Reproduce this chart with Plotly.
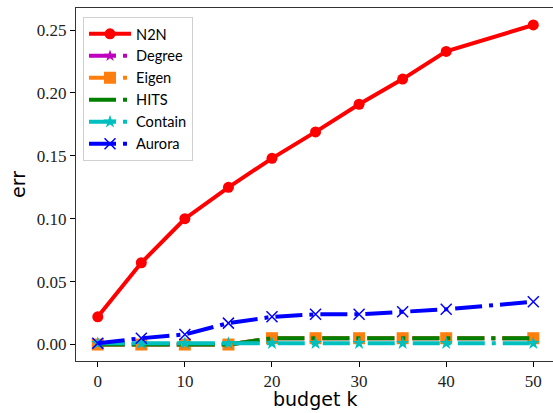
import plotly.graph_objects as go

budget = [0, 5, 10, 15, 20, 25, 30, 35, 40, 50]
n2n = [0.022, 0.065, 0.100, 0.125, 0.148, 0.169, 0.191, 0.211, 0.233, 0.254]
degree = [0.0, 0.0, 0.0, 0.0, 0.005, 0.005, 0.005, 0.005, 0.005, 0.005]
eigen = [0.0, 0.0, 0.0, 0.0, 0.005, 0.005, 0.005, 0.005, 0.005, 0.005]
hits = [0.0, 0.0, 0.0, 0.0, 0.005, 0.005, 0.005, 0.005, 0.005, 0.005]
contain = [0.001, 0.001, 0.001, 0.001, 0.001, 0.001, 0.001, 0.001, 0.001, 0.001]
aurora = [0.001, 0.005, 0.008, 0.017, 0.022, 0.024, 0.024, 0.026, 0.028, 0.034]

yticks = [0.0, 0.05, 0.10, 0.15, 0.20, 0.25]
xticks = [0, 10, 20, 30, 40, 50]

DASHDOT = "27px,7px,4px,7px"

fig = go.Figure()
fig.add_trace(go.Scatter(x=budget, y=n2n, name="N2N", mode="lines+markers",
                         line=dict(color="#ff0000", width=4),
                         marker=dict(symbol="circle", size=11, color="#ff0000")))
fig.add_trace(go.Scatter(x=budget, y=degree, name="Degree", mode="lines+markers",
                         line=dict(color="#bf00bf", width=4, dash=DASHDOT),
                         marker=dict(symbol="star", size=9, color="#bf00bf")))
fig.add_trace(go.Scatter(x=budget, y=eigen, name="Eigen", mode="lines+markers",
                         line=dict(color="#ff7f0e", width=4, dash=DASHDOT),
                         marker=dict(symbol="square", size=12, color="#ff7f0e")))
fig.add_trace(go.Scatter(x=budget, y=hits, name="HITS", mode="lines",
                         line=dict(color="#008000", width=4, dash=DASHDOT)))
fig.add_trace(go.Scatter(x=budget, y=contain, name="Contain", mode="lines+markers",
                         line=dict(color="#00bfbf", width=4, dash=DASHDOT),
                         marker=dict(symbol="star", size=10, color="#00bfbf")))
fig.add_trace(go.Scatter(x=budget, y=aurora, name="Aurora", mode="lines+markers",
                         line=dict(color="#0000ff", width=4, dash=DASHDOT),
                         marker=dict(symbol="x-thin-open", size=11,
                                     line=dict(color="#0000ff", width=1.5))))

fig.update_layout(
    width=553, height=413,
    margin=dict(l=76, r=0, t=8, b=52, autoexpand=False),
    plot_bgcolor="white", paper_bgcolor="white",
    showlegend=True,
    legend=dict(x=0.0147, y=0.975, xanchor="left", yanchor="top",
                bgcolor="rgba(255,255,255,0.8)", bordercolor="#d0d0d0", borderwidth=1,
                font=dict(family="Lato", size=14.6, color="black"),
                itemwidth=42, tracegroupgap=0),
    xaxis=dict(range=[-2.5, 52.26], tickvals=xticks, ticks="outside", ticklen=5,
               tickcolor="black", showline=True, linecolor="#333333", linewidth=1,
               mirror=True, showgrid=False, zeroline=False, automargin=False,
               tickfont=dict(family="Liberation Serif", size=17, color="#222222")),
    yaxis=dict(range=[-0.0131, 0.2675], tickvals=yticks, tickformat=".2f", ticks="outside",
               ticklen=5, tickcolor="black", showline=True, linecolor="#333333", linewidth=1,
               showgrid=False, zeroline=False, automargin=False,
               tickfont=dict(family="Liberation Serif", size=17, color="#222222"),
               title=dict(text="err", font=dict(family="DejaVu Sans", size=19, color="black"),
                          standoff=6)),
    annotations=[dict(text="budget k", xref="paper", yref="paper", x=0.5, y=0,
                      xanchor="center", yanchor="middle", yshift=-38, showarrow=False,
                      font=dict(family="DejaVu Sans", size=19, color="black"))],
)

# remove the default 8px page margin so the figure fills the window exactly
fig.write_html("out.html", config={"displayModeBar": False},
               post_script="document.body.style.margin='0px';")
